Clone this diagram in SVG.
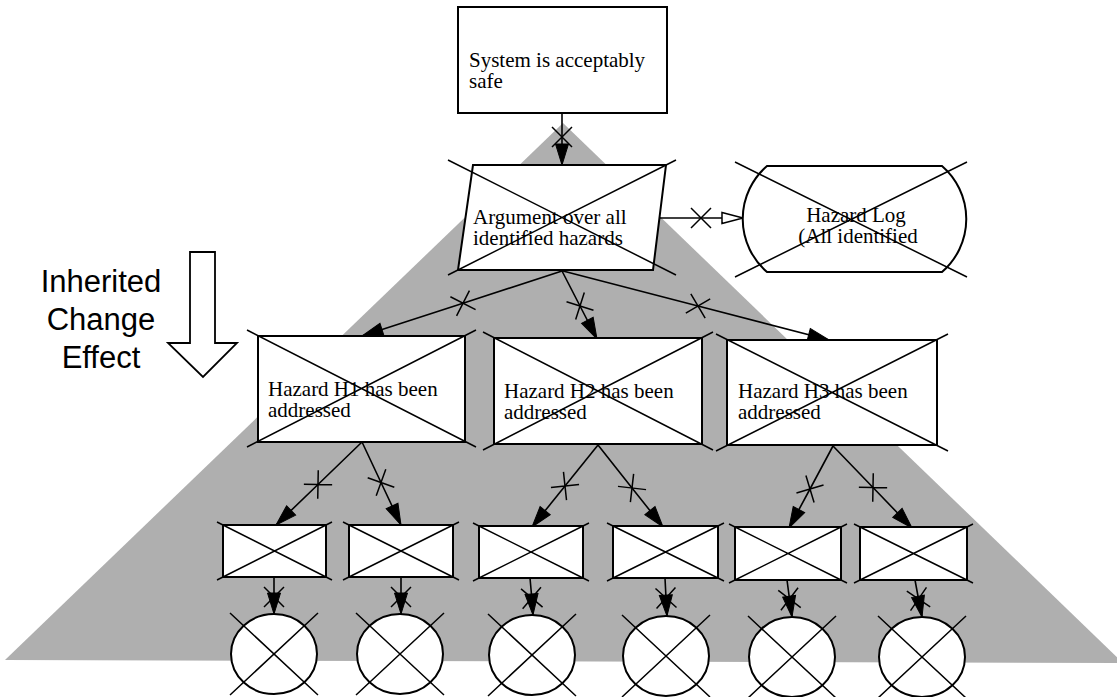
<svg xmlns="http://www.w3.org/2000/svg" width="1117" height="697" viewBox="0 0 1117 697">
  <style>
    .bg { fill: #ffffff; }
    .zone { fill: #afafaf; stroke: none; }
    .box { fill: #ffffff; stroke: #000000; stroke-width: 2; }
    .cross { fill: none; stroke: #000000; stroke-width: 1.5; }
    .link { fill: none; stroke: #000000; stroke-width: 1.6; marker-mid: url(#tick); marker-end: url(#head); }
    .link.ref { marker-end: url(#hollow); }
    .label { font-family: "Liberation Serif", "Times New Roman", serif; font-size: 21px; fill: #000000; }
    .side { font-family: "Liberation Sans", Arial, sans-serif; font-size: 31px; fill: #000000; text-anchor: middle; }
    .fat { fill: #ffffff; stroke: #000000; stroke-width: 1.8; }
  </style>
  <defs>
    <!-- crossed-through tick drawn across each connector -->
    <marker id="tick" markerUnits="userSpaceOnUse" orient="auto" markerWidth="1" markerHeight="1" refX="0" refY="0" overflow="visible">
      <path d="M-10,-10L10,10M-10,10L10,-10" fill="none" stroke="#000000" stroke-width="1.5"/>
    </marker>
    <!-- solid arrowhead (supported by) -->
    <marker id="head" markerUnits="userSpaceOnUse" orient="auto" markerWidth="1" markerHeight="1" refX="0" refY="0" overflow="visible">
      <path d="M0,0L-21,-6.5L-21,6.5Z" fill="#000000" stroke="#000000" stroke-width="1"/>
    </marker>
    <!-- open arrowhead (in context of) -->
    <marker id="hollow" markerUnits="userSpaceOnUse" orient="auto" markerWidth="1" markerHeight="1" refX="0" refY="0" overflow="visible">
      <path d="M0,0L-21,-5.5L-21,5.5Z" fill="#ffffff" stroke="#000000" stroke-width="1.5"/>
    </marker>
  </defs>

  <rect class="bg" x="0" y="0" width="1117" height="697"/>

  <!-- region affected by the change -->
  <polygon class="zone" points="563,123 5,660 1123,663"/>

  <!-- legend -->
  <g id="legend">
    <text class="side" x="101" y="292">Inherited<tspan x="101" dy="38">Change</tspan><tspan x="101" dy="38">Effect</tspan></text>
    <polygon class="fat" points="190,252 215,252 215,343 237,343 203,377 168,343 190,343"/>
  </g>

  <!-- connectors -->
  <g id="connectors">
    <polyline class="link" points="562,113 562,137 562,165"/>
    <polyline class="link ref" points="659,218 701,218 743,218"/>
    <polyline class="link" points="562,271 463,303.2 362,336"/>
    <polyline class="link" points="562,271 580,306 597,339"/>
    <polyline class="link" points="563,271 698,306 829,340"/>
    <polyline class="link" points="362,442 318,484.5 276,525"/>
    <polyline class="link" points="362,442 381,482.5 401,525"/>
    <polyline class="link" points="598,445 565,486 532,527"/>
    <polyline class="link" points="598,445 632,488 663,527"/>
    <polyline class="link" points="833,446 810,489 789,528"/>
    <polyline class="link" points="833,446 873,487.5 912,528"/>
    <polyline class="link" points="274,577 274,597 274,614"/>
    <polyline class="link" points="401,577 401,597 401,614"/>
    <polyline class="link" points="530,578 531.8,598 533,615"/>
    <polyline class="link" points="665,578 666,598 667,616"/>
    <polyline class="link" points="787,580 789.5,599 792,617"/>
    <polyline class="link" points="915,580 918.5,599 922,617"/>
  </g>

  <!-- top goal -->
  <g id="goal-top">
    <rect class="box" x="458" y="7" width="209" height="106"/>
    <text class="label" x="469" y="67">System is acceptably<tspan x="469" dy="20.5">safe</tspan></text>
  </g>

  <!-- strategy -->
  <g id="strategy">
    <polygon class="box" points="473,165 666,165 653,270 458,270"/>
    <text class="label" x="473" y="224">Argument over all<tspan x="473" dy="21">identified hazards</tspan></text>
    <path class="cross" d="M448,160L676,275M676,160L448,275"/>
  </g>

  <!-- context -->
  <g id="context">
    <path class="box" d="M767,166H942A70,70 0 0 1 942,272H767A70,70 0 0 1 767,166Z"/>
    <text class="label" x="856" y="222" text-anchor="middle">Hazard Log<tspan x="858" dy="21">(All identified</tspan></text>
    <path class="cross" d="M735,162L967,277M967,162L735,277"/>
  </g>

  <!-- hazard goals -->
  <g id="goal-h1">
    <rect class="box" x="258" y="336" width="207" height="106"/>
    <text class="label" x="268" y="396">Hazard H1 has been<tspan x="268" dy="20.5">addressed</tspan></text>
    <path class="cross" d="M247,330L476,447M476,330L247,447"/>
  </g>
  <g id="goal-h2">
    <rect class="box" x="494" y="338" width="208" height="106"/>
    <text class="label" x="504" y="398">Hazard H2 has been<tspan x="504" dy="21">addressed</tspan></text>
    <path class="cross" d="M483,332L713,450M713,332L483,450"/>
  </g>
  <g id="goal-h3">
    <rect class="box" x="727" y="340" width="210" height="105"/>
    <text class="label" x="738" y="398">Hazard H3 has been<tspan x="738" dy="21">addressed</tspan></text>
    <path class="cross" d="M716,334L948,451M948,334L716,451"/>
  </g>

  <!-- sub-goals -->
  <g id="sub-1">
    <rect class="box" x="223" y="525" width="103" height="52"/>
    <path class="cross" d="M217,522L332,580M332,522L217,580"/>
  </g>
  <g id="sub-2">
    <rect class="box" x="349" y="525" width="104" height="52"/>
    <path class="cross" d="M343,522L459,580M459,522L343,580"/>
  </g>
  <g id="sub-3">
    <rect class="box" x="479" y="526" width="104" height="52"/>
    <path class="cross" d="M473,523L589,581M589,523L473,581"/>
  </g>
  <g id="sub-4">
    <rect class="box" x="613" y="526" width="105" height="52"/>
    <path class="cross" d="M607,523L724,581M724,523L607,581"/>
  </g>
  <g id="sub-5">
    <rect class="box" x="735" y="527" width="106" height="53"/>
    <path class="cross" d="M729,524L847,583M847,524L729,583"/>
  </g>
  <g id="sub-6">
    <rect class="box" x="860" y="527" width="107" height="53"/>
    <path class="cross" d="M854,524L973,583M973,524L854,583"/>
  </g>

  <!-- solutions -->
  <g id="sol-1">
    <ellipse class="box" cx="274" cy="654" rx="43" ry="40"/>
    <path class="cross" d="M230,613L318,695M318,613L230,695"/>
  </g>
  <g id="sol-2">
    <ellipse class="box" cx="400" cy="654" rx="43" ry="40"/>
    <path class="cross" d="M356,613L444,695M444,613L356,695"/>
  </g>
  <g id="sol-3">
    <ellipse class="box" cx="532" cy="655" rx="43" ry="40"/>
    <path class="cross" d="M488,614L576,696M576,614L488,696"/>
  </g>
  <g id="sol-4">
    <ellipse class="box" cx="666" cy="656" rx="43" ry="40"/>
    <path class="cross" d="M622,615L710,697M710,615L622,697"/>
  </g>
  <g id="sol-5">
    <ellipse class="box" cx="792" cy="657" rx="43" ry="40"/>
    <path class="cross" d="M748,616L836,698M836,616L748,698"/>
  </g>
  <g id="sol-6">
    <ellipse class="box" cx="922" cy="657" rx="43" ry="40"/>
    <path class="cross" d="M878,616L966,698M966,616L878,698"/>
  </g>
</svg>
